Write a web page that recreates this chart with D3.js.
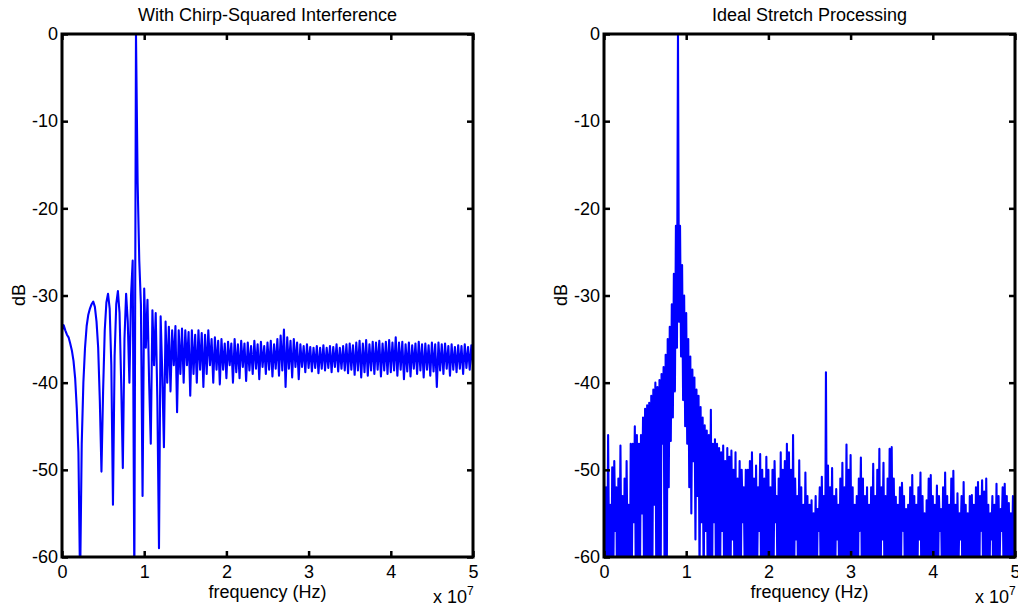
<!DOCTYPE html>
<html>
<head>
<meta charset="utf-8">
<script src="https://cdn.jsdelivr.net/npm/d3@7"></script>
<style>
  body { margin: 0; background: #fff; }
  svg { display: block; font-family: "Liberation Sans", Arial, sans-serif; }
</style>
</head>
<body>
<svg id="fig" width="1018" height="609"></svg>
<script>
const titles = ["With Chirp-Squared Interference", "Ideal Stretch Processing"];
const xTicks = [0, 1, 2, 3, 4, 5];        // x 10^7 Hz
const yTicks = [0, -10, -20, -30, -40, -50, -60];

// left panel, one sample every 0.2 MHz
const chirpStep = 0.02e7;
const chirpDb = [
  -34, -33.4, -34, -34.5, -34.8, -35.5, -36.3, -37.5, -39.5, -43,
  -48, -63, -47, -40, -36, -33.5, -32.2, -31.5, -31, -30.7,
  -31.3, -33, -36, -42, -50.2, -41, -34, -30.8, -29.8, -31.5,
  -38, -54, -37, -31, -29.5, -32, -40, -49.8, -35, -29.8,
  -33, -40, -30, -26, -63, 0, -17, -26, -31, -53,
  -29.2, -36, -30.5, -40, -47, -31.7, -38, -32, -42, -59,
  -32.4, -39, -47.4, -33, -40, -33.6, -41, -34, -38, -33.5,
  -43.4, -34, -39, -33.8, -40, -34, -38, -34.2, -41.5, -34,
  -39, -34.5, -40, -34, -38.5, -34.3, -40.5, -34.5, -39, -34,
  -38, -35, -40, -34.8, -38.5, -35.2, -40.2, -35, -38.5, -35.5,
  -39.5, -35.3, -38, -35.5, -40, -35, -38.8, -35.6, -39.5, -35.2,
  -38.2, -35.5, -39.8, -35.4, -38.6, -35.8, -39, -35.2, -38.4, -35.6,
  -39.6, -35.3, -38.2, -35.8, -39, -35.4, -38.5, -35.2, -39.3, -35.6,
  -38.4, -35, -39.2, -34.6, -38.6, -33.9, -40.5, -34.8, -38.4, -35.2,
  -39.4, -35, -38.2, -35.4, -39.6, -35.6, -38.2, -35.8, -38.8, -35.6,
  -38.3, -35.9, -38.7, -36, -38.3, -35.8, -38.9, -36, -38.4, -35.7,
  -38.6, -36, -38.3, -35.8, -38.8, -35.9, -38.2, -35.6, -38.7, -36,
  -38.4, -35.8, -38.6, -35.6, -38.9, -35.5, -38.5, -35.7, -39.1, -35.4,
  -38.6, -35.2, -39.4, -35.5, -38.8, -35.1, -39.2, -35.6, -38.6, -35.3,
  -39, -35.4, -38.5, -35.2, -39.3, -35.5, -38.6, -35.3, -39, -35.1,
  -38.8, -35.4, -38.6, -34.8, -39.2, -35.4, -38.5, -35.3, -39.6, -35.6,
  -38.7, -35.4, -39.3, -35.7, -38.4, -35.5, -39, -35.3, -38.6, -35.6,
  -39.4, -35.5, -38.5, -35.7, -39.2, -35.4, -38.7, -35.6, -40.5, -35.4,
  -38.6, -35.6, -39, -35.5, -38.4, -35.8, -39.2, -35.6, -38.5, -35.9,
  -38.8, -35.7, -38.4, -35.8, -39, -35.6, -38.3, -35.9, -38.5, -35.7,
  -38
];

// right panel, one sample every 0.125 MHz
const stretchStep = 0.0125e7;
const stretchDb = [
  -50.4, -62, -52, -66, -46, -61, -54, -68, -49.7, -63, -49, -57, -52, -70, -51, -64, -47.2, -62, -53, -66,
  -51, -65, -49, -61, -54, -69, -47, -63, -47, -56, -45, -64, -46, -67, -47, -62, -46, -55, -44, -63,
  -43, -66, -42.6, -62, -42.3, -68, -41.5, -64, -40.8, -54, -40, -65, -40.5, -61, -39.7, -67, -39, -47, -38.2, -63,
  -36.8, -66, -35, -52, -33.6, -46.7, -31, -44, -27.5, -41, -22, -36, 0, -33, -22, -37, -26.5, -42, -30, -45,
  -32, -47, -35, -52, -37, -55, -38.5, -49, -39.4, -58, -40.8, -53, -41.5, -62, -42.8, -56, -44, -64, -44.9, -57,
  -45.5, -65, -46, -61, -43.1, -68, -47, -56, -46.5, -63, -47, -66, -47.5, -62, -48, -57, -47.2, -64, -49, -67,
  -47.5, -62, -48.5, -66, -47.8, -58, -50, -63, -48, -69, -51, -61, -49, -65, -50, -56, -52, -62, -50, -67,
  -50, -63, -49, -66, -48, -60, -51, -68, -49.5, -62, -52, -57, -48.2, -65, -50, -63, -51, -69, -48.5, -61,
  -50, -64, -52, -67, -50, -62, -49, -56, -53, -65, -51, -63, -48, -68, -50, -61, -49, -66, -47, -63,
  -48, -62, -50, -67, -46, -63, -51, -58, -53, -65, -48.9, -62, -52, -69, -54, -64, -50.3, -61, -53, -66,
  -54, -63, -53.5, -67, -55, -61, -53, -65, -54.5, -57, -52, -64, -50.8, -62, -53, -68, -38.8, -63, -49.5, -65,
  -52, -61, -49.8, -66, -53, -63, -52.2, -58, -54, -64, -51, -62, -49.2, -67, -52, -63, -47.1, -65, -50, -61,
  -48.3, -64, -52, -68, -54, -62, -53, -66, -51, -57, -48.6, -63, -51, -65, -53, -61, -52, -69, -54, -63,
  -52, -62, -49.3, -66, -53, -64, -50, -61, -47.6, -67, -52, -58, -49.2, -63, -53, -65, -51, -62, -47.6, -66,
  -47.4, -63, -51, -61, -53.1, -67, -54, -64, -52, -62, -51.5, -57, -53, -65, -54.5, -68, -54, -62, -52, -64,
  -50.6, -62, -53, -66, -54, -63, -52, -58, -50.3, -65, -53, -62, -55, -67, -53.5, -61, -51, -64, -50.6, -63,
  -53, -66, -54, -61, -51.8, -64, -53, -57, -54.5, -63, -52, -67, -50.3, -62, -53, -65, -54, -61, -51, -68,
  -50.1, -63, -54, -65, -52.7, -61, -55, -58, -53, -66, -51.4, -62, -54, -64, -55, -67, -53, -61, -52.9, -63,
  -54, -65, -52, -62, -51.4, -68, -53, -57, -51.2, -63, -52.5, -66, -51, -61, -54, -64, -55, -58, -53, -67,
  -54, -62, -51.6, -65, -53, -61, -54.5, -57, -52, -64, -51.6, -62, -53, -66, -53.8, -63, -55, -61, -53, -64,
  -54
];

const box = {top: 34, bottom: 557, width: 411};
const panels = [
  {left: 62, title: titles[0], step: chirpStep, values: chirpDb},
  {left: 604, title: titles[1], step: stretchStep, values: stretchDb}
];

const fig = d3.select("#fig");

function styleAxis(sel) {
  sel.select(".domain").remove();
  sel.attr("font-size", 18)
    .attr("font-family", "'Liberation Sans', Arial, sans-serif");
  sel.selectAll(".tick line")
    .attr("stroke", "#000")
    .attr("stroke-width", 2.5);
  sel.selectAll(".tick text").attr("fill", "#000");
}

panels.forEach(function(p, k) {
  const x = d3.scaleLinear().domain([0, 5e7]).range([p.left, p.left + box.width]);
  const y = d3.scaleLinear().domain([-60, 0]).range([box.bottom, box.top]);
  const g = fig.append("g").attr("class", "panel");

  g.append("clipPath")
    .attr("id", `clip${k}`)
  .append("rect")
    .attr("x", p.left)
    .attr("y", box.top)
    .attr("width", box.width)
    .attr("height", box.bottom - box.top);

  const line = d3.line()
    .x((d, i) => x(i * p.step))
    .y(d => y(d));

  g.append("path")
    .datum(p.values)
    .attr("clip-path", `url(#clip${k})`)
    .attr("fill", "none")
    .attr("stroke", "#0000ff")
    .attr("stroke-width", 2.1)
    .attr("stroke-linejoin", "round")
    .attr("d", line);

  const xVals = xTicks.map(t => t * 1e7);

  g.append("g")
    .attr("transform", `translate(0,${box.bottom})`)
    .call(d3.axisBottom(x).tickValues(xVals).tickFormat(d => String(d / 1e7))
      .tickSizeInner(-6).tickSizeOuter(0).tickPadding(8))
    .call(styleAxis);

  g.append("g")
    .attr("transform", `translate(0,${box.top})`)
    .call(d3.axisTop(x).tickValues(xVals).tickFormat("")
      .tickSizeInner(-6).tickSizeOuter(0))
    .call(styleAxis);

  g.append("g")
    .attr("transform", `translate(${p.left},0)`)
    .call(d3.axisLeft(y).tickValues(yTicks).tickFormat(d => String(d))
      .tickSizeInner(-6).tickSizeOuter(0).tickPadding(4))
    .call(styleAxis);

  g.append("g")
    .attr("transform", `translate(${p.left + box.width},0)`)
    .call(d3.axisRight(y).tickValues(yTicks).tickFormat("")
      .tickSizeInner(-6).tickSizeOuter(0))
    .call(styleAxis);

  g.append("rect")
    .attr("x", p.left)
    .attr("y", box.top)
    .attr("width", box.width)
    .attr("height", box.bottom - box.top)
    .attr("fill", "none")
    .attr("stroke", "#000")
    .attr("stroke-width", 3);

  g.append("text")
    .attr("x", p.left + box.width / 2)
    .attr("y", 21)
    .attr("text-anchor", "middle")
    .attr("font-size", 18)
    .text(p.title);

  g.append("text")
    .attr("x", p.left + box.width / 2)
    .attr("y", 598)
    .attr("text-anchor", "middle")
    .attr("font-size", 18)
    .text("frequency (Hz)");

  g.append("text")
    .attr("transform", `translate(${p.left - 37},295) rotate(-90)`)
    .attr("text-anchor", "middle")
    .attr("font-size", 18)
    .text("dB");

  const mult = g.append("text")
    .attr("x", p.left + 371)
    .attr("y", 603)
    .attr("font-size", 18);
  mult.append("tspan").text("x 10");
  mult.append("tspan")
    .attr("dy", -8)
    .attr("font-size", 12)
    .text("7");
});
</script>
</body>
</html>
